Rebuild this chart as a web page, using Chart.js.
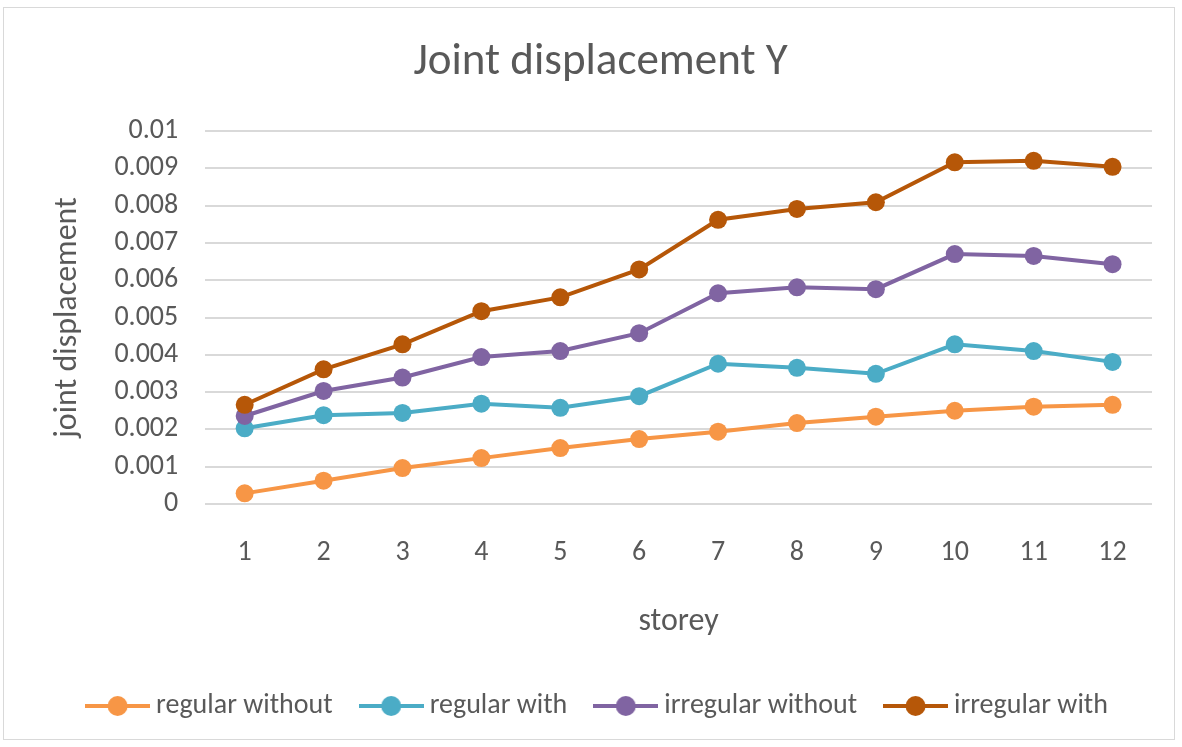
<!DOCTYPE html>
<html>
<head>
<meta charset="utf-8">
<script src="https://cdn.jsdelivr.net/npm/chart.js@4"></script>
<style>
  html, body { margin: 0; padding: 0; background: #fff; }
  #wrap { position: relative; width: 1182px; height: 747px; }
  #frame { position: absolute; left: 3px; top: 7px; width: 1172px; height: 733px; border: 1px solid #d9d9d9; box-sizing: border-box; pointer-events: none; }
  canvas { display: block; }
</style>
</head>
<body>
<div id="wrap">
  <canvas id="c" width="1182" height="747"></canvas>
  <div id="frame"></div>
</div>
<script>
const storeys = ['1','2','3','4','5','6','7','8','9','10','11','12'];
const regularWithout   = [0.000285, 0.000624, 0.000963, 0.00123, 0.0015, 0.00174, 0.00194, 0.00217, 0.00234, 0.0025, 0.00261, 0.00266];
const regularWith      = [0.00203, 0.00238, 0.00244, 0.00269, 0.00258, 0.00289, 0.00376, 0.00365, 0.00349, 0.00428, 0.0041, 0.00381];
const irregularWithout = [0.00236, 0.00303, 0.00339, 0.00394, 0.0041, 0.00458, 0.00565, 0.00581, 0.00576, 0.0067, 0.00665, 0.00643];
const irregularWith    = [0.00266, 0.00361, 0.00428, 0.00517, 0.00554, 0.00629, 0.00762, 0.00791, 0.00809, 0.00916, 0.0092, 0.00904];
const seriesNames = ['regular without', 'regular with', 'irregular without', 'irregular with'];
const seriesColors = ['#F79646', '#4BACC6', '#8064A2', '#B65708'];

const FONT = "Carlito, 'Liberation Sans Narrow', 'Open Sans', sans-serif";
const TEXT = '#595959';

function legendMarker(color) {
  const cv = document.createElement('canvas');
  cv.width = 65; cv.height = 22;
  const g = cv.getContext('2d');
  g.strokeStyle = color; g.lineWidth = 4;
  g.beginPath(); g.moveTo(0, 11); g.lineTo(65, 11); g.stroke();
  g.fillStyle = color;
  g.beginPath(); g.arc(32.5, 11, 10, 0, Math.PI * 2); g.fill();
  return cv;
}

const allData = [regularWithout, regularWith, irregularWithout, irregularWith];
const datasets = allData.map((d, i) => ({
  label: seriesNames[i],
  data: d,
  borderColor: seriesColors[i],
  backgroundColor: seriesColors[i],
  borderWidth: 4,
  pointRadius: 9,
  pointHoverRadius: 9,
  pointBorderWidth: 0,
  tension: 0,
  order: 4 - i
}));

new Chart(document.getElementById('c'), {
  type: 'line',
  data: { labels: storeys, datasets },
  options: {
    responsive: false,
    animation: false,
    layout: { padding: { left: 49, right: 30, top: 36, bottom: 17 } },
    plugins: {
      tooltip: { enabled: false },
      title: {
        display: true,
        text: 'Joint displacement Y',
        color: TEXT,
        font: { family: FONT, size: 45, weight: 'normal' },
        padding: { top: 0, bottom: 41 }
      },
      legend: {
        position: 'bottom',
        labels: {
          color: TEXT,
          font: { family: FONT, size: 28 },
          usePointStyle: true,
          pointStyleWidth: 49,
          padding: 34,
          generateLabels(chart) {
            return chart.data.datasets.map((ds, i) => ({
              text: ds.label,
              fillStyle: ds.borderColor,
              strokeStyle: ds.borderColor,
              fontColor: TEXT,
              lineWidth: 0,
              pointStyle: legendMarker(ds.borderColor),
              datasetIndex: i,
              hidden: false
            }));
          }
        }
      }
    },
    scales: {
      x: {
        offset: true,
        grid: { display: false },
        border: { display: false },
        ticks: { color: TEXT, font: { family: FONT, size: 28 }, padding: 24 },
        title: { display: true, text: 'storey', color: TEXT, font: { family: FONT, size: 32 }, padding: { top: 9, bottom: 17 } }
      },
      y: {
        min: 0,
        max: 0.01,
        ticks: {
          stepSize: 0.001,
          color: TEXT,
          font: { family: FONT, size: 28 },
          padding: 27,
          callback: v => String(parseFloat(Number(v).toFixed(3)))
        },
        grid: { color: '#d9d9d9', lineWidth: 2, drawTicks: false },
        border: { display: false },
        title: { display: true, text: 'joint displacement', color: TEXT, font: { family: FONT, size: 32 }, padding: { top: 0, bottom: 0 } }
      }
    }
  }
});
</script>
</body>
</html>
